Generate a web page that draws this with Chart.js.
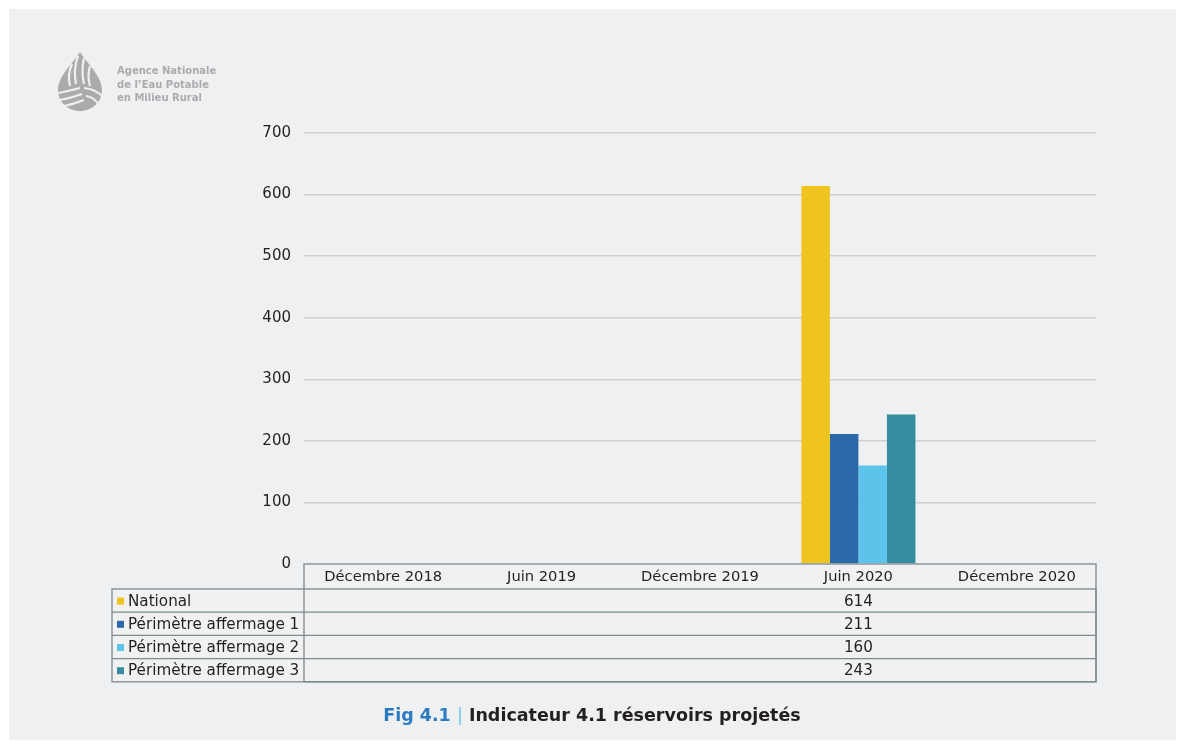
<!DOCTYPE html>
<html lang="fr">
<head>
<meta charset="utf-8">
<title>Indicateur 4.1 réservoirs projetés</title>
<script src="https://cdn.jsdelivr.net/npm/chart.js@4/dist/chart.umd.min.js"></script>
<style>
  html, body { margin: 0; padding: 0; background: #ffffff; }
  #frame { position: absolute; left: 9px; top: 9px; width: 1167px; height: 731px; background: #eff0f2; }
  #wrap { position: absolute; left: 0; top: 0; width: 1184px; height: 747px; }
  .brand { position: absolute; left: 117px; top: 64px; font-family: "DejaVu Sans", sans-serif; font-weight: 700;
           font-size: 10px; line-height: 13.5px; color: #a9abad; }
  .caption { position: absolute; left: 0; width: 1184px; top: 705px; text-align: center;
             font-family: "DejaVu Sans", sans-serif; font-weight: 700; font-size: 17.5px; color: #231f20; }
  .caption .fig { color: #2a7bc0; }
  .caption .bar { color: #6cc6ee; font-weight: 400; }
</style>
</head>
<body>
<div id="frame"></div>
<div id="wrap"><canvas id="chart" width="1184" height="747"></canvas></div>
<div class="brand">Agence Nationale<br>de l’Eau Potable<br>en Milieu Rural</div>
<div class="caption"><span class="fig">Fig 4.1</span> <span class="bar">|</span> Indicateur 4.1 réservoirs projetés</div>
<script>
// Periods on the horizontal axis
const categories = ['Décembre 2018', 'Juin 2019', 'Décembre 2019', 'Juin 2020', 'Décembre 2020'];

// Series values (number of projected reservoirs)
const national = [null, null, null, 614, null];
const perimetre1 = [null, null, null, 211, null];
const perimetre2 = [null, null, null, 160, null];
const perimetre3 = [null, null, null, 243, null];

const seriesNames = ['National', 'Périmètre affermage 1', 'Périmètre affermage 2', 'Périmètre affermage 3'];
const seriesColors = ['#f0c41e', '#2a69a7', '#5cc3ea', '#368ca0'];

// Y axis ticks
const yTicks = [0, 100, 200, 300, 400, 500, 600, 700];

const FONT = '"DejaVu Sans", sans-serif';
const TEXT = '#231f20';
const LINE = '#7b8a8e';

// Drop logo drawn next to the agency name
const logoPlugin = {
  id: 'logo',
  beforeDraw(chart) {
    const c = chart.ctx;
    c.save();
    c.fillStyle = '#a9abad';
    c.beginPath();
    c.moveTo(80, 52);
    c.bezierCurveTo(86, 62, 102, 76, 102, 90);
    c.bezierCurveTo(102, 102, 92, 111, 80, 111);
    c.bezierCurveTo(68, 111, 58, 102, 58, 90);
    c.bezierCurveTo(58, 76, 74, 62, 80, 52);
    c.closePath();
    c.fill();
    c.strokeStyle = '#eff0f2';
    c.lineWidth = 2.2;
    // upper vertical streaks
    [[72, 64, 70, 86], [78, 56, 76, 84], [84, 58, 84, 84], [90, 66, 90, 86]].forEach(([x1, y1, x2, y2]) => {
      c.beginPath(); c.moveTo(x1, y1); c.quadraticCurveTo(x2 - 3, (y1 + y2) / 2, x2, y2); c.stroke();
    });
    // lower left streaks
    [[58, 93, 80, 88], [60, 100, 82, 94], [64, 106, 84, 100]].forEach(([x1, y1, x2, y2]) => {
      c.beginPath(); c.moveTo(x1, y1); c.quadraticCurveTo((x1 + x2) / 2, y1 - 2, x2, y2); c.stroke();
    });
    // right streaks
    [[84, 88, 102, 96], [86, 96, 98, 104]].forEach(([x1, y1, x2, y2]) => {
      c.beginPath(); c.moveTo(x1, y1); c.quadraticCurveTo((x1 + x2) / 2 + 2, y1 + 1, x2, y2); c.stroke();
    });
    c.restore();
  }
};

// Data table under the plot: header row of periods, one row per series
const tablePlugin = {
  id: 'dataTable',
  afterDraw(chart) {
    const c = chart.ctx;
    const area = chart.chartArea;
    const xs = chart.scales.x;
    const left = area.left, right = area.right, top = area.bottom;
    const headH = 25, rowH = 23.2;
    const labelLeft = 112;
    const rows = [national, perimetre1, perimetre2, perimetre3];
    const bottom = top + headH + rowH * rows.length;
    c.save();
    c.fillStyle = '#f1f1f2';
    c.fillRect(left, top, right - left, bottom - top);
    c.fillRect(labelLeft, top + headH, left - labelLeft, bottom - top - headH);
    c.strokeStyle = LINE;
    c.lineWidth = 1.3;
    // outer frames
    c.strokeRect(left, top, right - left, bottom - top);
    c.strokeRect(labelLeft, top + headH, right - labelLeft, bottom - top - headH);
    for (let i = 1; i < rows.length; i++) {
      const y = top + headH + rowH * i;
      c.beginPath(); c.moveTo(labelLeft, y); c.lineTo(right, y); c.stroke();
    }
    c.fillStyle = TEXT;
    c.textAlign = 'center';
    c.textBaseline = 'middle';
    c.font = '14.7px ' + FONT;
    categories.forEach((lab, i) => {
      c.fillText(lab, xs.getPixelForValue(i), top + headH / 2 + 1);
    });
    c.font = '15.2px ' + FONT;
    rows.forEach((vals, r) => {
      const y = top + headH + rowH * r + rowH / 2 + 1;
      c.textAlign = 'left';
      c.fillStyle = seriesColors[r];
      c.fillRect(117, y - 4, 7, 7);
      c.fillStyle = TEXT;
      c.fillText(seriesNames[r], 128, y);
      c.textAlign = 'center';
      vals.forEach((v, i) => {
        if (v !== null) c.fillText(String(v), xs.getPixelForValue(i), y);
      });
    });
    c.restore();
  }
};

const datasets = [national, perimetre1, perimetre2, perimetre3].map((d, i) => ({
  label: seriesNames[i],
  data: d,
  backgroundColor: seriesColors[i],
  borderWidth: 0,
  categoryPercentage: 0.72,
  barPercentage: 1.0
}));

new Chart(document.getElementById('chart'), {
  type: 'bar',
  data: { labels: categories, datasets },
  plugins: [logoPlugin, tablePlugin],
  options: {
    responsive: false,
    animation: false,
    layout: { padding: { left: 254, right: 88, top: 133, bottom: 183 } },
    plugins: { legend: { display: false }, tooltip: { enabled: false } },
    scales: {
      x: { display: false },
      y: {
        min: 0, max: 700,
        afterFit(scale) { scale.width = 50; },
        afterBuildTicks(scale) { scale.ticks = yTicks.map(v => ({ value: v })); },
        border: { display: false },
        grid: {
          color: (ctx) => ctx.tick && ctx.tick.value === 0 ? 'rgba(0,0,0,0)' : '#cfd0d2',
          lineWidth: 1.5,
          drawTicks: false
        },
        ticks: { padding: 13, color: TEXT, font: { family: FONT, size: 15 } }
      }
    }
  }
});
</script>
</body>
</html>
